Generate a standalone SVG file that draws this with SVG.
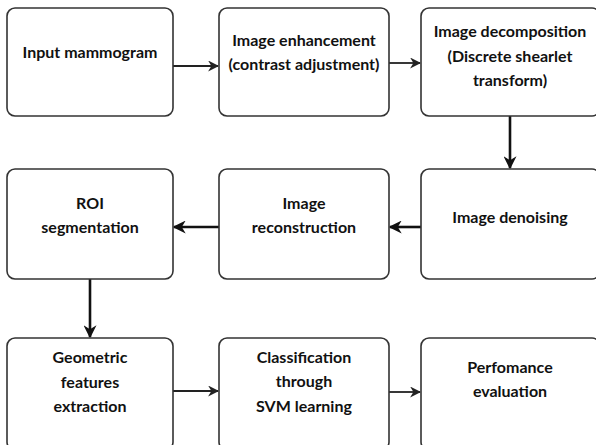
<svg xmlns="http://www.w3.org/2000/svg" width="596" height="445" viewBox="0 0 596 445">
<style>
.box{fill:#fff;stroke:#333;stroke-width:1.6}
.t{font-family:Lato,"Liberation Sans",sans-serif;font-weight:bold;font-size:16px;fill:#111;text-anchor:middle}
.c{fill:none;stroke:#222;stroke-width:1.8}
.ct{fill:none;stroke:#111;stroke-width:2.6}
</style>
<defs>
<marker id="m" viewBox="0 0 10 10" refX="9" refY="5" markerWidth="11" markerHeight="11" markerUnits="userSpaceOnUse" orient="auto"><path d="M0,0 L10,5 L0,10 L3,5 z" fill="#222"/></marker>
<marker id="b" viewBox="0 0 10 10" refX="9" refY="5" markerWidth="13" markerHeight="13" markerUnits="userSpaceOnUse" orient="auto"><path d="M0,0 L10,5 L0,10 L3,5 z" fill="#111"/></marker>
</defs>
<rect width="596" height="445" fill="#fff"/>
<g id="connectors">
<line class="c" x1="173" y1="66" x2="218" y2="66" marker-end="url(#m)"/>
<line class="c" x1="389" y1="63" x2="420" y2="63" marker-end="url(#m)"/>
<line class="ct" x1="510" y1="116" x2="510" y2="168" marker-end="url(#b)"/>
<line class="ct" x1="421" y1="227" x2="390" y2="227" marker-end="url(#b)"/>
<line class="ct" x1="219" y1="227" x2="174" y2="227" marker-end="url(#b)"/>
<line class="ct" x1="90" y1="279" x2="90" y2="337" marker-end="url(#b)"/>
<line class="c" x1="173" y1="391" x2="218" y2="391" marker-end="url(#m)"/>
<line class="c" x1="389" y1="392" x2="420" y2="392" marker-end="url(#m)"/>
</g>
<g id="n1"><rect class="box" x="7" y="8" width="166" height="108" rx="8"/><text class="t" x="90" y="58">Input mammogram</text></g>
<g id="n2"><rect class="box" x="219" y="8" width="170" height="108" rx="8"/><text class="t" x="304" y="46">Image enhancement</text><text class="t" x="304" y="70">(contrast adjustment)</text></g>
<g id="n3"><rect class="box" x="421" y="8" width="179" height="108" rx="8"/><text class="t" x="510" y="37">Image decomposition</text><text class="t" x="510" y="62">(Discrete shearlet</text><text class="t" x="510" y="86">transform)</text></g>
<g id="n4"><rect class="box" x="421" y="169" width="179" height="110" rx="8"/><text class="t" x="510" y="223">Image denoising</text></g>
<g id="n5"><rect class="box" x="219" y="169" width="170" height="110" rx="8"/><text class="t" x="304" y="209">Image</text><text class="t" x="304" y="233">reconstruction</text></g>
<g id="n6"><rect class="box" x="7" y="169" width="166" height="110" rx="8"/><text class="t" x="90" y="209">ROI</text><text class="t" x="90" y="233">segmentation</text></g>
<g id="n7"><rect class="box" x="7" y="338" width="166" height="112" rx="8"/><text class="t" x="90" y="363">Geometric</text><text class="t" x="90" y="388">features</text><text class="t" x="90" y="412">extraction</text></g>
<g id="n8"><rect class="box" x="219" y="338" width="170" height="112" rx="8"/><text class="t" x="304" y="363">Classification</text><text class="t" x="304" y="387">through</text><text class="t" x="304" y="412">SVM learning</text></g>
<g id="n9"><rect class="box" x="421" y="338" width="179" height="112" rx="8"/><text class="t" x="510" y="373">Perfomance</text><text class="t" x="510" y="397">evaluation</text></g>
</svg>
